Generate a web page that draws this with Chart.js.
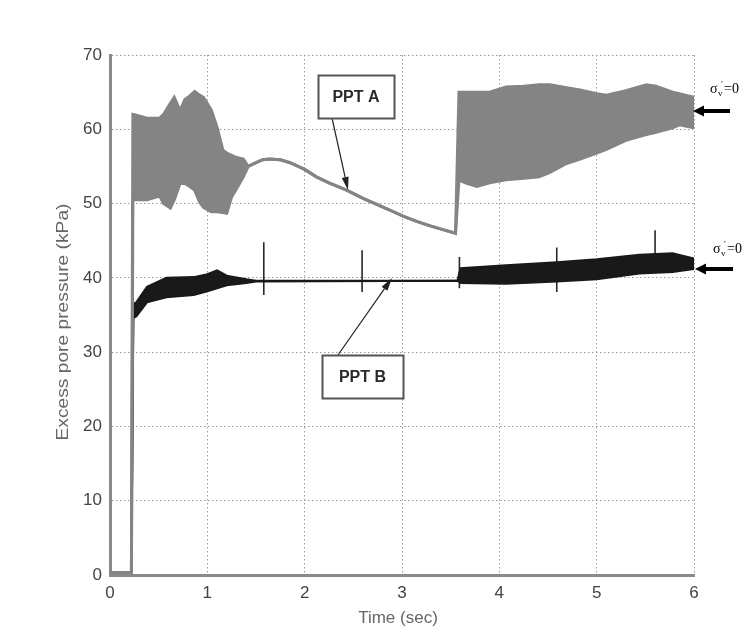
<!DOCTYPE html>
<html>
<head>
<meta charset="utf-8">
<script src="https://cdn.jsdelivr.net/npm/chart.js@4.4.1/dist/chart.umd.min.js"></script>
<style>
  html, body { margin: 0; padding: 0; background: #ffffff; }
  #wrap { width: 750px; height: 641px; position: relative; }
</style>
</head>
<body>
<div id="wrap"><canvas id="c" width="750" height="641"></canvas></div>
<script>
// ---- Data (time in sec, pressure in kPa) ----
// PPT A: upper / lower envelope of the oscillating record (equal where the record is smooth)
const timeA  = [0, 0.22, 0.235, 0.27, 0.38, 0.51, 0.55, 0.62, 0.66, 0.72, 0.77, 0.82, 0.87, 0.92, 0.96, 1.04, 1.10, 1.16, 1.20, 1.25, 1.30, 1.37, 1.42, 1.50, 1.57, 1.64, 1.75, 1.85, 2.00, 2.12, 2.25, 2.43, 2.60, 2.74, 2.88, 3.01, 3.15, 3.29, 3.42, 3.55, 3.585, 3.65, 3.77, 3.90, 4.07, 4.25, 4.41, 4.52, 4.69, 4.83, 5.00, 5.10, 5.30, 5.51, 5.61, 5.78, 5.85, 6.00];
const upperA = [0.3, 0.3, 62.0, 61.9, 61.5, 61.5, 62.0, 63.5, 64.3, 62.5, 64.0, 64.5, 65.1, 64.6, 64.3, 62.6, 60.3, 57.2, 56.8, 56.5, 56.2, 56.0, 55.0, 55.5, 55.9, 56.0, 55.9, 55.5, 54.6, 53.6, 52.8, 51.8, 50.7, 49.9, 49.1, 48.3, 47.6, 47.0, 46.5, 46.0, 65.0, 65.0, 65.0, 65.0, 65.7, 65.8, 66.0, 66.0, 65.6, 65.3, 64.8, 64.6, 65.2, 66.0, 65.8, 65.0, 64.8, 64.3];
const lowerA = [0.3, 0.3, 50.5, 50.5, 50.5, 51.0, 50.0, 49.4, 50.5, 52.7, 52.7, 52.3, 51.8, 50.2, 49.5, 48.9, 48.9, 48.8, 48.7, 50.9, 52.0, 53.6, 55.0, 55.5, 55.9, 56.0, 55.9, 55.5, 54.6, 53.6, 52.8, 51.8, 50.7, 49.9, 49.1, 48.3, 47.6, 47.0, 46.5, 46.0, 53.2, 52.8, 52.3, 52.8, 53.2, 53.4, 53.6, 54.2, 55.4, 56.0, 56.8, 57.3, 58.5, 59.3, 59.6, 60.2, 60.6, 60.2];

// PPT B: upper / lower envelope
const timeB  = [0, 0.22, 0.24, 0.27, 0.38, 0.58, 0.86, 1.00, 1.10, 1.20, 1.40, 1.50, 3.57, 3.60, 4.07, 4.59, 5.00, 5.44, 5.78, 6.00];
const upperB = [0.3, 0.3, 36.5, 36.7, 38.8, 40.0, 40.1, 40.5, 41.0, 40.3, 39.8, 39.6, 39.6, 41.3, 41.7, 42.1, 42.5, 43.1, 43.3, 42.6];
const lowerB = [0.3, 0.3, 34.6, 34.8, 36.7, 37.4, 37.7, 38.2, 38.6, 39.0, 39.3, 39.5, 39.6, 39.3, 39.2, 39.5, 39.8, 40.6, 40.8, 41.2];

// PPT B short spikes
const spikeTimeB = [0.22, 1.58, 2.59, 3.59, 4.59, 5.60];
const spikeLowB  = [0.3, 37.7, 38.1, 38.6, 38.1, 41.0];
const spikeHighB = [3.4, 44.8, 43.7, 42.8, 44.1, 46.4];

// Axis ticks
const xTicks = [0, 1, 2, 3, 4, 5, 6];
const yTicks = [0, 10, 20, 30, 40, 50, 60, 70];

// ---- build datasets ----
const pts = (t, v) => t.map((x, i) => ({x: x, y: v[i]}));
const spikePts = [];
spikeTimeB.forEach((t, i) => {
  spikePts.push({x: t, y: spikeLowB[i]});
  spikePts.push({x: t, y: spikeHighB[i]});
  spikePts.push({x: t, y: null});
});

const grayA = 'rgb(132,132,132)';
const blackB = 'rgb(25,25,25)';

const annot = {
  id: 'annot',
  afterDatasetsDraw(chart) {
    const ctx = chart.ctx;
    ctx.save();

    function arrow(x1, y1, x2, y2, lw, hl, hw, color) {
      const ang = Math.atan2(y2 - y1, x2 - x1);
      const bx = x2 - hl * Math.cos(ang), by = y2 - hl * Math.sin(ang);
      ctx.strokeStyle = color; ctx.fillStyle = color; ctx.lineWidth = lw;
      ctx.beginPath(); ctx.moveTo(x1, y1); ctx.lineTo(bx, by); ctx.stroke();
      ctx.beginPath();
      ctx.moveTo(x2, y2);
      ctx.lineTo(bx + hw / 2 * Math.sin(ang), by - hw / 2 * Math.cos(ang));
      ctx.lineTo(bx - hw / 2 * Math.sin(ang), by + hw / 2 * Math.cos(ang));
      ctx.closePath(); ctx.fill();
    }
    function box(x, y, w, h, label) {
      ctx.fillStyle = '#ffffff';
      ctx.fillRect(x, y, w, h);
      ctx.strokeStyle = '#555'; ctx.lineWidth = 2;
      ctx.strokeRect(x + 0.5, y + 0.5, w, h);
      ctx.fillStyle = '#2a2a2a';
      ctx.font = 'bold 16px "Liberation Sans", Arial, sans-serif';
      ctx.textAlign = 'center'; ctx.textBaseline = 'middle';
      ctx.fillText(label, x + w / 2, y + h / 2 + 1);
    }

    // PPT A callout
    arrow(332, 118, 348, 190, 1.2, 13, 7, '#222');
    box(318, 75, 76, 43, 'PPT A');
    // PPT B callout
    arrow(338, 355, 392, 278, 1.2, 13, 7, '#222');
    box(322, 355, 81, 43, 'PPT B');

    // sigma'_v = 0 labels with thick arrows
    function sigma(x, y) {
      ctx.fillStyle = '#000';
      ctx.textAlign = 'left'; ctx.textBaseline = 'alphabetic';
      ctx.font = '14px "Liberation Serif", "Times New Roman", serif';
      ctx.fillText('σ', x, y);
      ctx.font = '9px "Liberation Serif", "Times New Roman", serif';
      ctx.fillText('v', x + 8, y + 3);
      ctx.fillText('\u2032', x + 11, y - 6);
      ctx.font = '14px "Liberation Serif", "Times New Roman", serif';
      ctx.fillText('=0', x + 14, y);
    }
    sigma(710, 93);
    arrow(730, 111, 693, 111, 4, 11, 11, '#000');
    sigma(713, 253);
    arrow(733, 269, 695, 269, 4, 11, 11, '#000');

    // axis titles
    ctx.fillStyle = '#666';
    ctx.font = '17px "Liberation Sans", Arial, sans-serif';
    ctx.textAlign = 'center'; ctx.textBaseline = 'middle';
    ctx.fillText('Time (sec)', 398, 618);
    ctx.save();
    ctx.translate(63, 322);
    ctx.rotate(-Math.PI / 2);
    ctx.scale(1.13, 1);
    ctx.fillText('Excess pore pressure (kPa)', 0, 0);
    ctx.restore();

    ctx.restore();
  }
};

new Chart(document.getElementById('c'), {
  type: 'line',
  data: {
    datasets: [
      { label: 'PPT A upper', data: pts(timeA, upperA), borderColor: grayA, backgroundColor: grayA,
        borderWidth: 3, pointRadius: 0, fill: '+1', tension: 0 },
      { label: 'PPT A lower', data: pts(timeA, lowerA), borderColor: grayA, backgroundColor: grayA,
        borderWidth: 3, pointRadius: 0, fill: false, tension: 0 },
      { label: 'PPT B upper', data: pts(timeB, upperB), borderColor: blackB, backgroundColor: blackB,
        borderWidth: 2, pointRadius: 0, fill: '+1', tension: 0 },
      { label: 'PPT B lower', data: pts(timeB, lowerB), borderColor: blackB, backgroundColor: blackB,
        borderWidth: 2, pointRadius: 0, fill: false, tension: 0 },
      { label: 'PPT B spikes', data: spikePts, borderColor: 'rgb(40,40,40)',
        borderWidth: 1.6, pointRadius: 0, fill: false, spanGaps: false }
    ]
  },
  options: {
    responsive: false,
    animation: false,
    events: [],
    layout: { padding: { left: 0, top: 55, right: 56, bottom: 0 } },
    plugins: { legend: { display: false }, tooltip: { enabled: false }, title: { display: false } },
    scales: {
      x: {
        type: 'linear', min: 0, max: 6,
        afterFit: s => { s.height = 66; },
        afterBuildTicks: s => { s.ticks = xTicks.map(v => ({value: v})); },
        ticks: { padding: 8, color: '#444', font: { family: '"Liberation Sans", Arial, sans-serif', size: 17 },
                 maxRotation: 0, callback: v => String(v) },
        grid: { color: '#9a9a9a', lineWidth: 1, drawTicks: false },
        border: { display: true, color: '#8a8a8a', width: 3, dash: [1.5, 2.5] }
      },
      y: {
        type: 'linear', min: 0, max: 70,
        afterFit: s => { s.width = 110; },
        afterBuildTicks: s => { s.ticks = yTicks.map(v => ({value: v})); },
        ticks: { padding: 8, color: '#444', font: { family: '"Liberation Sans", Arial, sans-serif', size: 17 },
                 callback: v => String(v) },
        grid: { color: '#9a9a9a', lineWidth: 1, drawTicks: false },
        border: { display: true, color: '#8a8a8a', width: 3, dash: [1.5, 2.5] }
      }
    }
  },
  plugins: [annot]
});
</script>
</body>
</html>
